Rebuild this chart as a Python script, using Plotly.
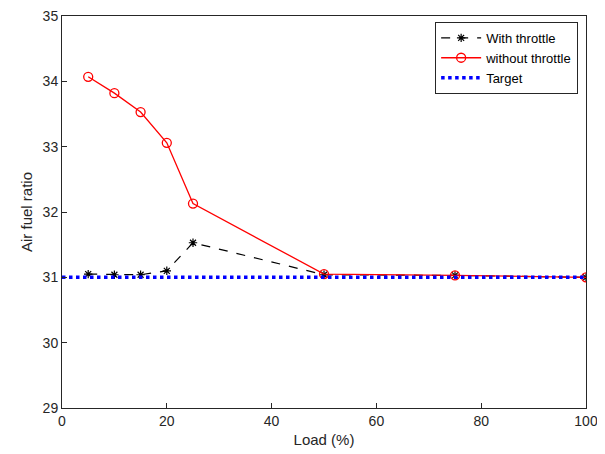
import plotly.graph_objects as go

load = [5, 10, 15, 20, 25, 50, 75, 100]
with_throttle = [31.05, 31.04, 31.04, 31.10, 31.53, 31.04, 31.03, 31.00]
without_throttle = [34.07, 33.82, 33.53, 33.06, 32.13, 31.05, 31.03, 31.00]
target_x = [0, 100]
target_y = [31, 31]
y_ticks = [29, 30, 31, 32, 33, 34, 35]

fig = go.Figure()
fig.add_trace(go.Scatter(x=load, y=with_throttle, name="With throttle", mode="lines+markers",
    line=dict(color="black", dash="dash", width=1.2),
    marker=dict(symbol="asterisk", size=7, color="black", line=dict(color="black", width=1.2))))
fig.add_trace(go.Scatter(x=load, y=without_throttle, name="without throttle", mode="lines+markers",
    line=dict(color="red", width=1.3),
    marker=dict(symbol="circle-open", size=9, color="red", line=dict(width=1.3))))
fig.add_trace(go.Scatter(x=target_x, y=target_y, name="Target", mode="lines",
    line=dict(color="blue", dash="dot", width=3.5)))

ax = dict(showgrid=False, zeroline=False, showline=True, mirror=True, linecolor="#262626",
          linewidth=1, ticks="inside", ticklen=5, tickcolor="#262626", automargin=False,
          ticklabeloverflow="allow",
          tickfont=dict(family="Arial, Liberation Sans", size=14, color="#262626"))
fig.update_xaxes(range=[0, 100], dtick=20, title=dict(text="Load (%)", standoff=6,
                 font=dict(family="Arial, Liberation Sans", size=15, color="#262626")), **ax)
fig.update_yaxes(range=[29, 35.001], tickvals=y_ticks, title=dict(text="Air fuel ratio", standoff=6,
                 font=dict(family="Arial, Liberation Sans", size=15, color="#262626")), **ax)
fig.update_layout(width=605, height=454, plot_bgcolor="white", paper_bgcolor="white",
    margin=dict(l=54, r=27, t=8, b=54),
    legend=dict(x=0.985, y=0.985, xanchor="right", yanchor="top", bgcolor="white",
                bordercolor="#262626", borderwidth=1,
                font=dict(family="Arial, Liberation Sans", size=13, color="black"),
                tracegroupgap=0, itemwidth=40))
fig.write_html("out.html")
